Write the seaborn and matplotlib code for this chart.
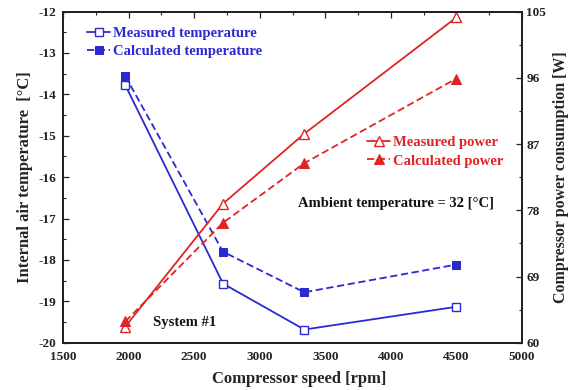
import matplotlib
matplotlib.use("Agg")
import matplotlib.pyplot as plt
from matplotlib.ticker import MultipleLocator, FixedLocator
import seaborn as sns
import numpy as np

# Data
speed = [1975, 2720, 3340, 4500]
temp_measured = [-13.78, -18.57, -19.68, -19.13]
temp_calculated = [-13.56, -17.80, -18.78, -18.11]
power_measured = [62.2, 78.9, 88.4, 104.2]
power_calculated = [62.9, 76.3, 84.4, 95.9]
power_ticks = [60, 69, 78, 87, 96, 105]
power_minor_ticks = [64.5, 73.5, 82.5, 91.5, 100.5]

x_label = "Compressor speed [rpm]"
y_left_label = "Internal air temperature  [°C]"
y_right_label = "Compressor power consumption [W]"

sns.set_theme(style="white")
plt.rcParams['font.family'] = ['Liberation Serif', 'DejaVu Serif']
plt.rcParams['font.weight'] = 'bold'
plt.rcParams['axes.unicode_minus'] = False

BLUE = '#2a2ad0'
RED = '#e02424'

fig = plt.figure(figsize=(5.73, 3.90), dpi=100)
ax = fig.add_axes([0.110, 0.121, 0.801, 0.8495])
ax2 = ax.twinx()

sns.lineplot(x=speed, y=temp_measured, ax=ax, color=BLUE, marker='s', markersize=6,
             markerfacecolor='white', markeredgecolor=BLUE, markeredgewidth=1.0,
             linestyle='-', linewidth=1.3, label='Measured temperature')
sns.lineplot(x=speed, y=temp_calculated, ax=ax, color=BLUE, marker='s', markersize=6,
             markerfacecolor=BLUE, markeredgecolor=BLUE, dashes=False,
             linestyle=(0, (4, 2)), linewidth=1.3, label='Calculated temperature')
sns.lineplot(x=speed, y=power_measured, ax=ax2, color=RED, marker='^', markersize=7,
             markerfacecolor='white', markeredgecolor=RED, markeredgewidth=1.0,
             linestyle='-', linewidth=1.3, label='Measured power')
sns.lineplot(x=speed, y=power_calculated, ax=ax2, color=RED, marker='^', markersize=7,
             markerfacecolor=RED, markeredgecolor=RED, dashes=False,
             linestyle=(0, (4, 2)), linewidth=1.3, label='Calculated power')

ax.set_xlim(1500, 5000)
ax.set_ylim(-20, -12)
ax2.set_ylim(60, 105)
ax.xaxis.set_major_locator(MultipleLocator(500))
ax.xaxis.set_minor_locator(MultipleLocator(250))
ax.yaxis.set_major_locator(MultipleLocator(1))
ax.yaxis.set_minor_locator(MultipleLocator(0.5))
ax2.yaxis.set_major_locator(FixedLocator(power_ticks))
ax2.yaxis.set_minor_locator(FixedLocator(power_minor_ticks))

ax.tick_params(axis='both', which='both', direction='in', colors='#222222', labelsize=9.5)
ax.tick_params(axis='x', which='both', top=True, pad=6)
ax.tick_params(axis='y', which='both', left=True, right=False, pad=5)
ax.tick_params(which='major', length=4, width=0.9)
ax.tick_params(which='minor', length=2, width=0.8)
ax2.tick_params(axis='y', which='both', direction='in', right=True, labelsize=9.5,
                colors='#222222', pad=3)
ax2.tick_params(which='major', length=4, width=0.9)
ax2.tick_params(which='minor', length=2, width=0.8)
for a in (ax, ax2):
    for lab in a.get_xticklabels() + a.get_yticklabels():
        lab.set_fontweight('bold')
    for s in a.spines.values():
        s.set_color('#222222')
        s.set_linewidth(1.4)

ax.set_xlabel(x_label, fontsize=12, fontweight='bold', labelpad=4)
ax.xaxis.set_label_coords(0.515, -0.085)
ax.set_ylabel(y_left_label, fontsize=12, fontweight='bold', labelpad=4)
ax2.set_ylabel(y_right_label, fontsize=11.5, fontweight='bold', labelpad=5)

leg1 = ax.legend(loc='upper left', bbox_to_anchor=(0.03, 0.985), frameon=False,
                 handlelength=1.6, handletextpad=0.15, labelspacing=0.35,
                 borderaxespad=0.3, labelcolor='linecolor',
                 prop={'family': 'Liberation Serif', 'weight': 'bold', 'size': 10.5})
leg2 = ax2.legend(loc='upper left', bbox_to_anchor=(0.64, 0.655), frameon=False,
                  handlelength=1.6, handletextpad=0.15, labelspacing=0.35,
                  borderaxespad=0.3, labelcolor='linecolor',
                  prop={'family': 'Liberation Serif', 'weight': 'bold', 'size': 10.5})

ax.text(0.513, 0.42, "Ambient temperature = 32 [°C]", transform=ax.transAxes,
        fontsize=10.5, fontweight='bold', color='#111111', ha='left', va='center')
ax.text(0.195, 0.06, "System #1", transform=ax.transAxes,
        fontsize=10.5, fontweight='bold', color='#111111', ha='left', va='center')

fig.savefig('out.png', dpi=100)
